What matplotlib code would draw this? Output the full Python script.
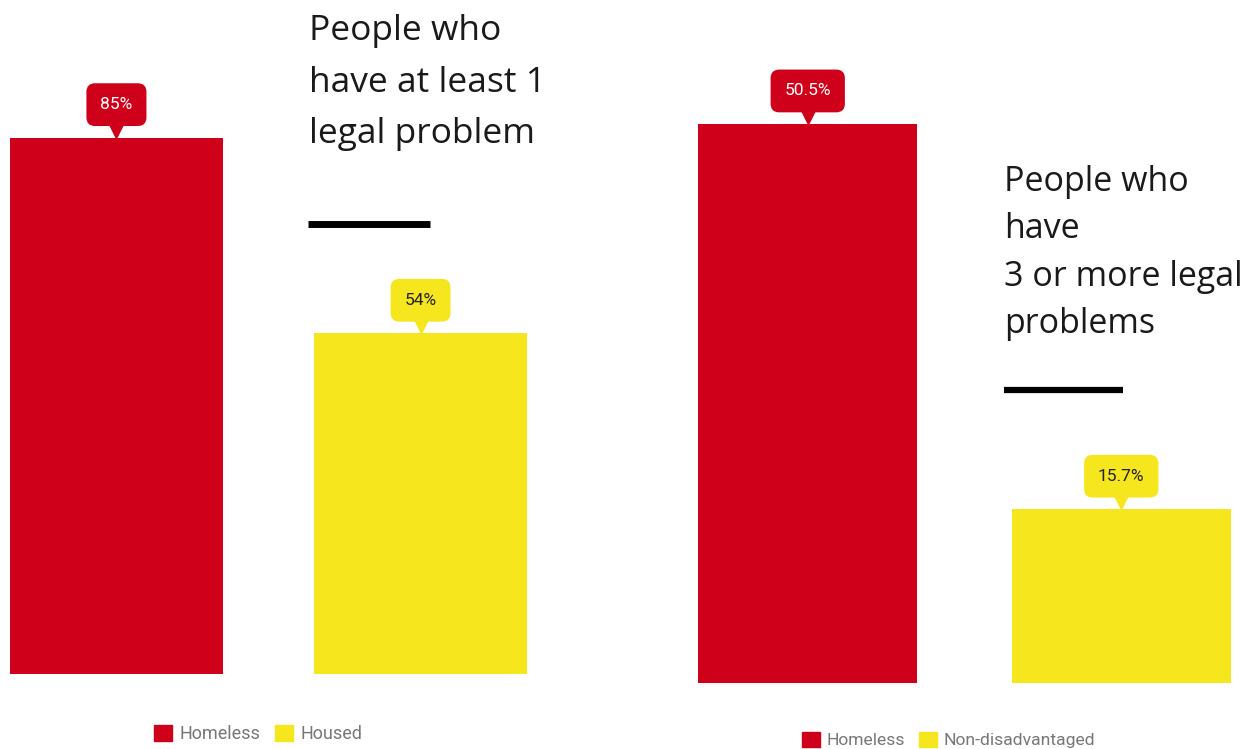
import matplotlib
matplotlib.use('Agg')
import matplotlib.pyplot as plt
import matplotlib.transforms as mtransforms
from matplotlib.patches import Patch

W, H = 1245, 749

red = '#CF0019'
yellow = '#F6E61E'

left_groups = ['Homeless', 'Housed']
left_values = [85, 54]
left_title = 'People who\nhave at least 1\nlegal problem'

right_groups = ['Homeless', 'Non-disadvantaged']
right_values = [50.5, 15.7]
right_title = 'People who\nhave\n3 or more legal\nproblems'

colors = [red, yellow]
label_colors = ['white', '#222222']

fig = plt.figure(figsize=(W / 100, H / 100), dpi=100)


def px_axes(x0, x1, y_bottom):
    # axes placed in pixel coordinates (y measured from top of image)
    return fig.add_axes([x0 / W, (H - y_bottom) / H, (x1 - x0) / W, y_bottom / H])


def draw_panel(ax, groups, values, ymax, legend_xy, legend_size):
    pos = range(len(values))
    ax.bar(pos, values, width=0.7, color=colors)
    ax.set_xlim(-0.35, len(values) - 0.65)
    ax.set_ylim(0, ymax)
    ax.axis('off')
    tri_trans = mtransforms.offset_copy(ax.transData, fig=fig, x=0, y=7, units='dots')
    for i, v in enumerate(values):
        txt = ('%g%%' % v)
        ax.annotate(txt, (i, v), xytext=(0, 33), textcoords='offset pixels',
                    ha='center', va='center', fontsize=12.5, family='Roboto',
                    color=label_colors[i],
                    bbox=dict(boxstyle='round,pad=0.8,rounding_size=0.5',
                              fc=colors[i], ec='none'))
        ax.plot([i], [v], marker='v', markersize=10, color=colors[i],
                transform=tri_trans, clip_on=False)
    handles = [Patch(color=c, label=g) for c, g in zip(colors, groups)]
    fig.legend(handles=handles, loc='center', ncol=2, frameon=False,
               bbox_to_anchor=(legend_xy[0] / W, 1 - legend_xy[1] / H),
               handlelength=1.0, handleheight=1.0, handletextpad=0.4,
               columnspacing=0.8,
               prop={'family': 'Roboto', 'size': legend_size}, labelcolor='#777777')


ax1 = px_axes(10, 527, 674)
draw_panel(ax1, left_groups, left_values, 674 / 6.31, (258, 734), 13)

ax2 = px_axes(698, 1231, 683)
draw_panel(ax2, right_groups, right_values, 683 / 11.07, (949, 740), 12.6)

# titles and separator lines
fig.text(309 / W, 1 - 14 / H, left_title, ha='left', va='top', fontsize=25.5,
         family='Open Sans', color='#1a1a1a', linespacing=1.68)
fig.add_artist(plt.Line2D([308 / W, 430 / W], [1 - 224 / H, 1 - 224 / H],
                          color='black', lw=5, solid_capstyle='butt'))

fig.text(1004 / W, 1 - 165 / H, right_title, ha='left', va='top', fontsize=24.5,
         family='Open Sans', color='#1a1a1a', linespacing=1.51)
fig.add_artist(plt.Line2D([1004 / W, 1123 / W], [1 - 390 / H, 1 - 390 / H],
                          color='black', lw=4.5, solid_capstyle='butt'))

fig.savefig('out.png', dpi=100)
